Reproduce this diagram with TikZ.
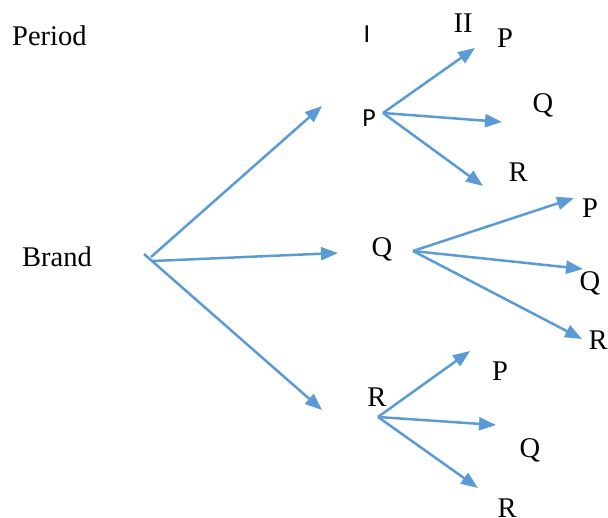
\documentclass[tikz,border=0pt]{standalone}
\usepackage{fontspec}
\setmainfont{Liberation Serif}
\newfontfamily\calfont{Carlito}
\usetikzlibrary{arrows.meta}
\definecolor{arrblue}{RGB}{91,155,213}
\begin{document}
\begin{tikzpicture}[x=1pt,y=-1pt,
  lbl/.style={anchor=base,inner sep=0pt,font=\fontsize{28.5}{30}\selectfont},
  slbl/.style={anchor=base,inner sep=0pt,font=\calfont\fontsize{26}{28}\selectfont},
  arr/.style={draw=arrblue,line width=2.5pt,-{Triangle[length=17pt,width=13pt]}}]
\useasboundingbox (0,0) rectangle (608,518);
% labels
\node[lbl,anchor=base west] (period) at (12,46) {Period};
\node[lbl,anchor=base west] (brand) at (22,267) {Brand};
\node[slbl] (pI) at (367,43) {I};
\node[lbl] (pII) at (463,33) {II};
\node[slbl] (bP) at (369,127) {P};
\node[lbl] (bQ) at (382,257) {Q};
\node[lbl] (bR) at (377,407) {R};
\node[lbl] (pp) at (505,48) {P};
\node[lbl] (pq) at (543,113) {Q};
\node[lbl] (pr) at (518,182) {R};
\node[lbl] (qp) at (590,218) {P};
\node[lbl] (qq) at (590,291) {Q};
\node[lbl] (qr) at (598,350) {R};
\node[lbl] (rp) at (500,381) {P};
\node[lbl] (rq) at (530,457) {Q};
\node[lbl] (rr) at (507,517) {R};
% coordinates
\coordinate (o1) at (151,257);
\coordinate (o2) at (153,261);
\coordinate (o3) at (144,254);
\coordinate (t1) at (322,106);
\coordinate (t2) at (338,253);
\coordinate (t3) at (322,410);
\coordinate (po) at (383,113);
\coordinate (pt1) at (475,48);
\coordinate (pt2) at (502,122);
\coordinate (pt3) at (483,186);
\coordinate (qo) at (413,251);
\coordinate (qt1) at (574,198);
\coordinate (qt2) at (583,269);
\coordinate (qt3) at (582,339);
\coordinate (ro) at (378,417);
\coordinate (rt1) at (470,351);
\coordinate (rt2) at (496,425);
\coordinate (rt3) at (478,488);
% arrows
\draw[arr] (o1) -- (t1);
\draw[arr] (o2) -- (t2);
\draw[arr] (o3) -- (t3);
\draw[arr] (po) -- (pt1);
\draw[arr] (po) -- (pt2);
\draw[arr] (po) -- (pt3);
\draw[arr] (qo) -- (qt1);
\draw[arr] (qo) -- (qt2);
\draw[arr] (qo) -- (qt3);
\draw[arr] (ro) -- (rt1);
\draw[arr] (ro) -- (rt2);
\draw[arr] (ro) -- (rt3);
\end{tikzpicture}
\end{document}
